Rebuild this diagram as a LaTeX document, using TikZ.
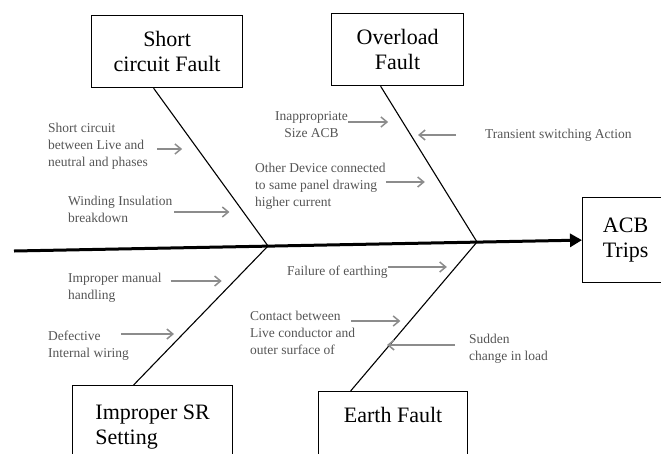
\documentclass[tikz,border=0pt]{standalone}
\usepackage{fontspec}
\setmainfont{Liberation Serif}
\usepackage{xcolor}
\definecolor{notegray}{HTML}{555555}
\definecolor{cuegray}{HTML}{8C8C8C}
\usepackage{tikz}
\usetikzlibrary{arrows.meta,positioning,calc}

\begin{document}
\begin{tikzpicture}[x=1pt, y=-1pt,
  box/.style={draw, line width=1.2pt, font=\fontsize{22}{25}\selectfont,
              align=center, inner sep=0pt, anchor=north west},
  note/.style={font=\fontsize{13.5}{17}\selectfont, text=notegray,
               inner sep=0pt, anchor=west, align=left},
  spine/.style={line width=3pt, -{Triangle[length=12pt,width=13pt]}},
  bone/.style={line width=1.1pt},
  cue/.style={draw=cuegray, line width=1.5pt, -{Straight Barb[length=6pt,width=10pt]}}
]
  \useasboundingbox (0,0) rectangle (661,453);

  % cause boxes
  \node[box, minimum width=151pt, minimum height=72pt] (sc) at (91,15) {Short\\circuit Fault};
  \node[box, minimum width=132pt, minimum height=72pt] (ol) at (331,13) {Overload\\Fault};
  \node[box, minimum width=86pt, minimum height=85pt] (acb) at (582,197) {ACB\\Trips};
  \node[box, align=left, minimum width=160pt, inner ysep=18pt,
        text height=41pt, text depth=60pt] (sr) at (72,385) {Improper SR\\Setting};
  \node[box, minimum width=149pt, inner ysep=15pt,
        text height=16pt, text depth=50pt] (ef) at (318,391) {Earth Fault};

  % spine and bones
  \coordinate (tail) at (14,251);
  \coordinate (j1) at (268,246);
  \coordinate (j2) at (477,242);
  \draw[spine] (tail) -- (acb.west);
  \draw[bone] ([xshift=-13.5pt]sc.south) -- (j1);
  \draw[bone] ([xshift=-17pt]ol.south) -- (j2);
  \draw[bone] (j1) -- ([xshift=-19pt]sr.north);
  \draw[bone] (j2) -- ([xshift=-42.5pt]ef.north);

  % sub-causes
  \node[note] (l1) at (48,146.5) {Short circuit\\between Live and\\neutral and phases};
  \node[note] (l2) at (68,209) {Winding Insulation\\breakdown};
  \node[note, align=center] (l3) at (275,125) {Inappropriate\\Size ACB};
  \node[note] (l4) at (485,135) {Transient switching Action};
  \node[note] (l5) at (255,186.5) {Other Device connected\\to same panel drawing\\higher current};
  \node[note] (l6) at (68,288) {Improper manual\\handling};
  \node[note] (l7) at (48,345.5) {Defective\\Internal wiring};
  \node[note] (l8) at (287,272) {Failure of earthing};
  \node[note] (l9) at (250,333) {Contact between\\Live conductor and\\outer surface of};
  \node[note] (l10) at (469,348.5) {Sudden\\change in load};

  \draw[cue] ([shift={(9,2.5)}]l1.east) -- ++(25,0);
  \draw[cue] ([shift={(2,3)}]l2.east) -- ++(55,0);
  \draw[cue] ([yshift=3pt]l3.east) -- ++(40,0);
  \draw[cue] ([xshift=-29pt]l4.west) -- ++(-38,0);
  \draw[cue] ([yshift=4.5pt]l5.east) -- ++(39,0);
  \draw[cue] ([shift={(9,-7)}]l6.east) -- ++(51,0);
  \draw[cue] ([shift={(-8,-11.5)}]l7.east) -- ++(53,0);
  \draw[cue] ([yshift=5pt]l8.east) -- ++(59,0);
  \draw[cue] ([shift={(-4,-12)}]l9.east) -- ++(49,0);
  \draw[cue] ([shift={(-14,-3.5)}]l10.west) -- ++(-68,0);
\end{tikzpicture}
\end{document}
